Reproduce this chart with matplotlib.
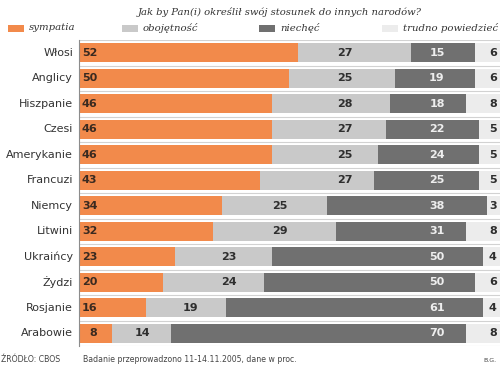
import matplotlib.pyplot as plt
from matplotlib.patches import Rectangle

kraje = ['Włosi', 'Anglicy', 'Hiszpanie', 'Czesi', 'Amerykanie', 'Francuzi',
         'Niemcy', 'Litwini', 'Ukraińcy', 'Żydzi', 'Rosjanie', 'Arabowie']
sympatia = [52, 50, 46, 46, 46, 43, 34, 32, 23, 20, 16, 8]
obojetnosc = [27, 25, 28, 27, 25, 27, 25, 29, 23, 24, 19, 14]
niechec = [15, 19, 18, 22, 24, 25, 38, 31, 50, 50, 61, 70]
trudno = [6, 6, 8, 5, 5, 5, 3, 8, 4, 6, 4, 8]
kategorie = ['sympatia', 'obojętność', 'niechęć', 'trudno powiedzieć']

kolory = ['#f28a4b', '#c9c9c9', '#707070', '#ececec']
# kolumny etykiet dla szarego segmentu (tak jak w grafice, nie dokładnie na środku)
x_obojetnosc_lbl = [63.2] * 6 + [47.8] * 2 + [35.7] * 2 + [26.5, 15.1]

fig = plt.figure(figsize=(5, 3.68), dpi=100)
ax = fig.add_axes([78.5 / 500, 1 - 346 / 368, 421.5 / 500, 306 / 368])

y = list(range(len(kraje)))
h = 0.76
lewo = [0] * len(kraje)
for seria, kol in zip([sympatia, obojetnosc, niechec, trudno], kolory):
    ax.barh(y, seria, left=lewo, height=h, color=kol, linewidth=0)
    lewo = [a + b for a, b in zip(lewo, seria)]

for i in range(len(kraje) + 1):
    ax.axhline(i - 0.5, color='#d2d2d2', lw=0.8)

num = dict(fontsize=8, fontweight='bold', va='center')
for i, k in enumerate(kraje):
    ax.text(-1.3, i, k, ha='right', va='center', fontsize=8, color='#333333')
    ax.text(4.5, i, str(sympatia[i]), ha='right', color='#3a2a20', **num)
    ax.text(x_obojetnosc_lbl[i], i, str(obojetnosc[i]), ha='center', color='#2e2e2e', **num)
    ax.text(85.05, i, str(niechec[i]), ha='center', color='#eeeeee', **num)
    ax.text(98.3, i, str(trudno[i]), ha='center', color='#2e2e2e', **num)

ax.set_xlim(0, 100)
ax.set_ylim(len(kraje) - 0.5, -0.5)
ax.set_xticks([])
ax.set_yticks([])
for s in ['top', 'right', 'bottom']:
    ax.spines[s].set_visible(False)
ax.spines['left'].set_color('#8c8c8c')
ax.spines['left'].set_linewidth(0.8)

fig.text(280 / 500, 1 - 12 / 368, 'Jak by Pan(i) określił swój stosunek do innych narodów?',
         ha='center', va='center', fontsize=7.2, style='italic', family='DejaVu Serif', color='#333333')

# legenda
patch_x = [8, 122, 259, 382]
for px, kol, nazwa in zip(patch_x, kolory, kategorie):
    fig.patches.append(Rectangle((px / 500, 1 - 32 / 368), 16 / 500, 7 / 368,
                                 transform=fig.transFigure, color=kol, lw=0))
    fig.text((px + 21) / 500, 1 - 28 / 368, nazwa, ha='left', va='center', fontsize=7.3,
             style='italic', family='DejaVu Serif', color='#333333')

fig.text(1 / 500, 1 - 360 / 368, 'ŹRÓDŁO: CBOS', ha='left', va='center', fontsize=5.6, color='#444444')
fig.text(83 / 500, 1 - 360 / 368, 'Badanie przeprowadzono 11-14.11.2005, dane w proc.',
         ha='left', va='center', fontsize=5.6, color='#444444')
fig.text(497 / 500, 1 - 360 / 368, 'B.G.', ha='right', va='center', fontsize=4.5, color='#444444')

fig.savefig('out.png', dpi=100)
